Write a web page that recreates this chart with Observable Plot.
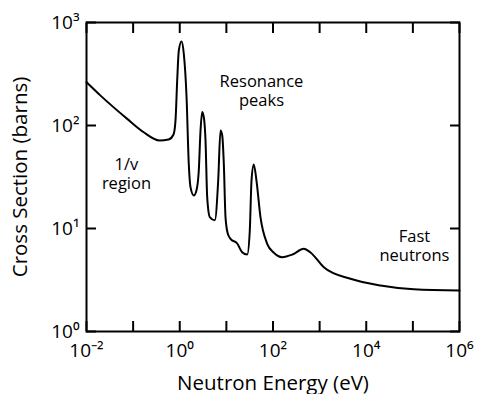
<!DOCTYPE html>
<html>
<head>
<meta charset="utf-8">
<script src="https://cdn.jsdelivr.net/npm/d3@7"></script>
<script src="https://cdn.jsdelivr.net/npm/@observablehq/plot@0.6"></script>
<style>
  html, body { margin: 0; padding: 0; background: #fff; }
  #chart { width: 480px; height: 394px; }
</style>
</head>
<body>
<div id="chart"></div>
<script>
// Neutron energy (eV) and cross section (barns)
const energy = [0.01, 0.020, 0.0747, 0.169, 0.368, 0.574, 0.735, 0.811, 0.881, 0.955,
  1.09, 1.22, 1.40, 1.56, 1.70, 2.00, 2.28, 2.56, 2.79, 3.03,
  3.31, 3.57, 3.88, 4.41, 5.65, 6.68, 7.48, 8.15, 8.81, 9.58,
  10.7, 12.3, 17.1, 21.8, 28.0, 31.8, 34.6, 38.7, 44.2, 53.9,
  75.1, 103, 157, 262, 458, 637, 1230, 4590, 20200, 105000, 1000000];
const crossSection = [263, 195, 116, 86, 71.5, 73, 81.8, 112, 273, 535,
  655, 500, 188, 42.8, 25.2, 20.9, 23.4, 36.6, 89.4, 135,
  117, 71.5, 20.1, 12.9, 12.0, 29.2, 89.4, 80, 42.8, 12.9,
  8.94, 7.94, 7.15, 5.89, 5.59, 9.57, 29.2, 41.8, 29.2, 12.9,
  7.10, 5.85, 5.27, 5.59, 6.35, 5.85, 4.21, 3.25, 2.80, 2.57, 2.50];

const xTicks = [1e-2, 1e-1, 1e0, 1e1, 1e2, 1e3, 1e4, 1e5, 1e6];
const xLabelTicks = [1e-2, 1e0, 1e2, 1e4, 1e6];
const yTicks = [1e0, 1e1, 1e2, 1e3];

const annotLine1 = ["1/v", "Resonance", "Fast"];
const annotLine2 = ["region", "peaks", "neutrons"];
const annotX = [0.072, 56.6, 1.08e5];
const annotY = [34.2, 219, 6.84];

const data = energy.map((e, i) => ({e, s: crossSection[i]}));
const annots = annotLine1.map((t, i) => ({t1: t, t2: annotLine2[i], x: annotX[i], y: annotY[i]}));

const supMap = {"-": "⁻", "0": "⁰", "1": "¹", "2": "²", "3": "³", "4": "⁴", "5": "⁵", "6": "⁶", "7": "⁷", "8": "⁸", "9": "⁹"};
const sup = d => "10" + String(Math.round(Math.log10(d))).split("").map(c => supMap[c]).join("");
const blank = () => "";

const chart = Plot.plot({
  width: 480,
  height: 394,
  marginLeft: 86,
  marginRight: 21,
  marginTop: 22,
  marginBottom: 63,
  style: {fontFamily: "'Open Sans', sans-serif", color: "#000", background: "#fff"},
  x: {type: "log", domain: [1e-2, 1e6]},
  y: {type: "log", domain: [1, 1e3]},
  marks: [
    Plot.axisX(xTicks, {anchor: "bottom", tickSize: -10, strokeWidth: 2, tickFormat: blank, label: null}),
    Plot.axisX(xTicks, {anchor: "top", tickSize: -10, strokeWidth: 2, tickFormat: blank, label: null}),
    Plot.axisY(yTicks, {anchor: "left", tickSize: -10, strokeWidth: 2, tickFormat: blank, label: null}),
    Plot.axisY(yTicks, {anchor: "right", tickSize: -10, strokeWidth: 2, tickFormat: blank, label: null}),
    Plot.axisX(xLabelTicks, {anchor: "bottom", tickSize: 0, tickPadding: 12, fontSize: 19, tickFormat: sup, label: null}),
    Plot.axisY(yTicks, {anchor: "left", tickSize: 0, tickPadding: 7, fontSize: 19, tickFormat: sup, label: null}),
    Plot.axisX([], {anchor: "bottom", tickSize: 0, fontSize: 20.5,
      label: "Neutron Energy (eV)", labelAnchor: "center", labelOffset: 58, labelArrow: "none"}),
    Plot.axisY([], {anchor: "left", tickSize: 0, fontSize: 20.5,
      label: "Cross Section (barns)", labelAnchor: "center", labelOffset: 74, labelArrow: "none"}),
    Plot.line(data, {x: "e", y: "s", stroke: "#000", strokeWidth: 2, curve: "monotone-x"}),
    Plot.text(annots, {x: "x", y: "y", text: "t1", fontSize: 16.5, lineAnchor: "bottom", dy: -3.5, fill: "#000"}),
    Plot.text(annots, {x: "x", y: "y", text: "t2", fontSize: 16.5, lineAnchor: "top", dy: 3.5, fill: "#000"}),
    Plot.frame({stroke: "#000", strokeWidth: 2})
  ]
});
document.getElementById("chart").append(chart);
</script>
</body>
</html>
